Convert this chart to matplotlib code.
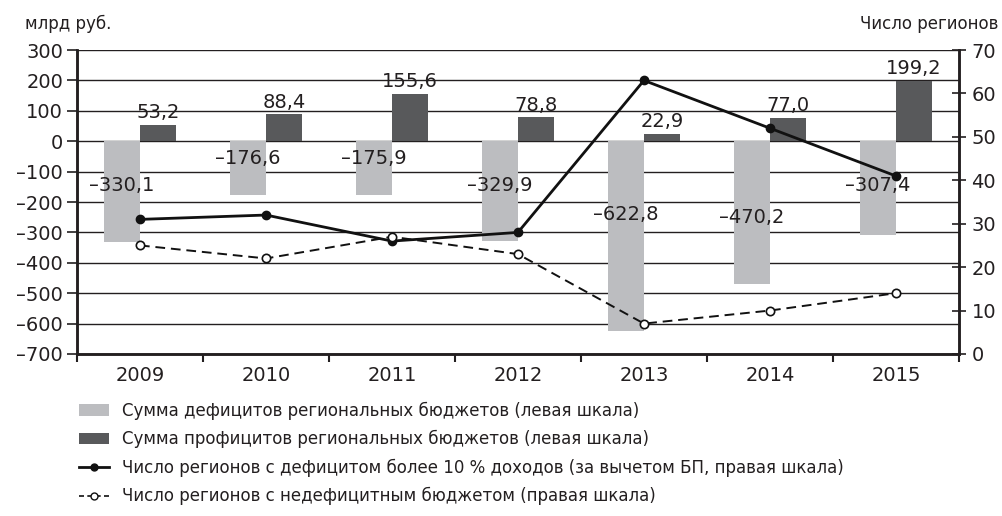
import matplotlib
matplotlib.use("Agg")
import matplotlib.pyplot as plt
import numpy as np
from matplotlib.patches import Patch
from matplotlib.lines import Line2D

plt.rcParams['font.family'] = ['DejaVu Sans']

years = ["2009", "2010", "2011", "2012", "2013", "2014", "2015"]
deficits = [-330.1, -176.6, -175.9, -329.9, -622.8, -470.2, -307.4]
surpluses = [53.2, 88.4, 155.6, 78.8, 22.9, 77.0, 199.2]
n_deficit_10 = [31, 32, 26, 28, 63, 52, 41]
n_nondeficit = [25, 22, 27, 23, 7, 10, 14]
deficit_label_y = [-145, -56, -56, -145, -240, -250, -145]

left_ticks = list(range(-700, 301, 100))
right_ticks = list(range(0, 71, 10))

c_def = "#bcbdc0"
c_sur = "#58595b"
c_txt = "#231f20"

fig = plt.figure(figsize=(10.02, 5.16), dpi=100)
ax = fig.add_axes([0.0768, 0.314, 0.8802, 0.589])
ax2 = ax.twinx()

x = np.arange(len(years))
w = 0.286
ax.bar(x - w / 2, deficits, width=w, color=c_def, zorder=2)
ax.bar(x + w / 2, surpluses, width=w, color=c_sur, zorder=2)

fs = 14
def fmt(v):
    s = f"{v:.1f}".replace(".", ",")
    return s.replace("-", "\u2013")

for i in range(len(years)):
    ax.annotate(fmt(surpluses[i]), (x[i] + w / 2, surpluses[i]), xytext=(0, 2),
                textcoords="offset points", ha="center", va="bottom", fontsize=fs,
                color=c_txt, zorder=5)
    ax.text(x[i] - w / 2, deficit_label_y[i], fmt(deficits[i]), ha="center", va="center",
            fontsize=fs, color=c_txt, zorder=5)

for t in left_ticks:
    ax.axhline(t, color=c_txt, lw=1.0, zorder=1)

ax.set_ylim(-700, 300)
ax.set_xlim(-0.5, len(years) - 0.5)
ax.set_yticks(left_ticks)
ax.set_yticklabels([str(t).replace("-", "\u2013") for t in left_ticks], fontsize=fs, color=c_txt)
ax.set_xticks(x)
ax.set_xticklabels(years, fontsize=fs, color=c_txt)
ax.set_xticks(np.arange(-0.5, len(years), 1.0), minor=True)
ax.tick_params(axis="x", which="major", length=0, pad=9)
ax.tick_params(axis="x", which="minor", length=6, width=1.5, direction="out", color=c_txt)
ax.tick_params(axis="y", length=7, width=1.2, direction="out", color=c_txt, pad=3)

ax2.plot(x, n_deficit_10, color="#111111", lw=2, marker="o", ms=6, mfc="#111111", mec="#111111", zorder=4)
ax2.plot(x, n_nondeficit, color="#111111", lw=1.4, ls=(0, (5, 3)), marker="o", ms=6,
         mfc="white", mec="#111111", mew=1.2, zorder=4)
ax2.set_ylim(0, 70)
ax2.set_yticks(right_ticks)
ax2.set_yticklabels([str(t) for t in right_ticks], fontsize=fs, color=c_txt)
ax2.tick_params(axis="y", length=10, width=1.2, direction="inout", color=c_txt, pad=4)

for a in (ax, ax2):
    a.spines["top"].set_visible(False)
    for s in ("left", "right", "bottom"):
        a.spines[s].set_linewidth(1.8)
        a.spines[s].set_color(c_txt)

fig.text(0.025, 0.953, "млрд руб.", fontsize=12, ha="left", va="center", color=c_txt)
fig.text(0.996, 0.953, "Число регионов", fontsize=12, ha="right", va="center", color=c_txt)

handles = [
    Patch(facecolor=c_def, edgecolor="none"),
    Patch(facecolor=c_sur, edgecolor="none"),
    Line2D([0], [0], color="#111111", lw=2, marker="o", ms=5, mfc="#111111"),
    Line2D([0], [0], color="#111111", lw=1.2, ls=(0, (3, 2)), marker="o", ms=5, mfc="white"),
]
labels = [
    "Сумма дефицитов региональных бюджетов (левая шкала)",
    "Сумма профицитов региональных бюджетов (левая шкала)",
    "Число регионов с дефицитом более 10 % доходов (за вычетом БП, правая шкала)",
    "Число регионов с недефицитным бюджетом (правая шкала)",
]
fig.legend(handles, labels, loc="upper left", bbox_to_anchor=(0.079, 0.222), frameon=False,
           fontsize=12, handlelength=1.8, handleheight=0.7, handletextpad=0.8,
           labelspacing=0.62, borderaxespad=0, borderpad=0, labelcolor=c_txt)

fig.savefig("out.png", dpi=100)
